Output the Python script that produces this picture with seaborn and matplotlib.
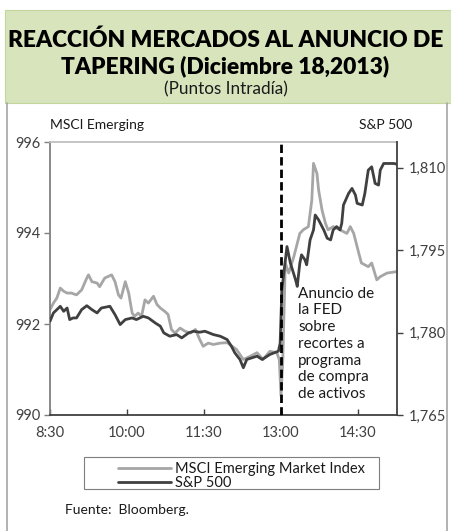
import matplotlib
matplotlib.use("Agg")
import matplotlib.pyplot as plt
import seaborn as sns
import pandas as pd
from matplotlib.patches import Rectangle
from matplotlib.lines import Line2D

# ---------------- data ----------------
msci_min = [0,4,8,12,16,20,25,31,37,43,45,49,55,58,64,72,76,80,83,88,92,96,99,103,107,111,115,121,125,129,
            134,138,142,146,152,158,164,170,175,179,185,191,199,207,218,226,234,242,249,257,265,268,270,272,275,
            279,285,292,296,302,306,308,312,314,318,322,325,331,339,347,351,355,361,364,372,376,382,386,394,405]
msci_val = [992.31,992.46,992.57,992.79,992.72,992.68,992.68,992.64,992.75,993.01,993.08,992.93,992.90,992.82,
            993.01,993.08,992.93,992.64,992.57,992.93,992.68,992.24,992.17,992.24,992.17,992.53,992.46,992.61,
            992.43,992.35,992.28,992.21,991.88,991.80,991.91,991.84,991.80,991.88,991.66,991.51,991.58,991.55,
            991.58,991.59,991.44,991.22,991.29,991.37,991.22,991.40,991.37,991.22,990.42,991.15,993.34,993.12,
            993.48,993.99,994.07,994.14,994.72,995.53,995.31,994.94,994.50,994.21,994.07,994.14,994.07,993.99,
            994.14,993.99,993.55,993.34,993.26,993.34,992.97,993.04,993.12,993.15]
sp_min = [0,4,8,12,16,20,23,27,31,37,43,49,55,60,70,76,82,88,96,101,109,115,123,129,133,140,148,154,162,168,
          175,181,191,199,207,212,216,222,226,230,242,248,257,267,269,271,277,281,287,289,292,294,298,300,304,
          308,310,314,320,324,328,331,335,339,341,343,349,353,357,359,365,368,372,376,380,384,386,390,402,405]
sp_val = [1782.07,1783.58,1784.18,1784.79,1783.88,1784.48,1782.37,1782.67,1782.67,1784.18,1784.90,1784.18,
          1783.58,1784.48,1784.79,1783.27,1781.46,1782.37,1782.67,1782.37,1782.97,1782.67,1781.76,1781.16,
          1779.95,1779.34,1779.64,1779.04,1779.95,1780.25,1780.07,1780.25,1779.64,1779.34,1778.74,1777.53,
          1776.32,1775.11,1773.60,1775.11,1775.71,1775.11,1776.02,1776.62,1778.10,1787.81,1795.67,1792.65,
          1789.62,1788.41,1792.65,1794.16,1793.25,1792.34,1796.88,1798.69,1801.41,1800.50,1798.69,1797.18,
          1796.88,1798.69,1799.30,1798.69,1799.90,1803.23,1805.34,1806.25,1805.04,1803.53,1803.23,1805.34,
          1809.58,1810.18,1807.16,1806.86,1809.58,1810.79,1810.79,1810.67]

x_ticks = [0, 90, 180, 270, 360]
x_tick_labels = ["8:30", "10:00", "11:30", "13:00", "14:30"]
left_ticks = [990, 992, 994, 996]
right_ticks = [1765, 1780, 1795, 1810]
right_tick_labels = ["1,765", "1,780", "1,795", "1,810"]
event_min = 270

title = "REACCIÓN MERCADOS AL ANUNCIO DE\nTAPERING (Diciembre 18,2013)"
subtitle = "(Puntos Intradía)"
annot = "Anuncio de\nla FED\nsobre\nrecortes a\nprograma\nde compra\nde activos"
series_names = ["MSCI Emerging Market Index", "S&P 500"]

msci_df = pd.DataFrame({"t": msci_min, "v": msci_val})
sp_df = pd.DataFrame({"t": sp_min, "v": sp_val})

# ---------------- style ----------------
sns.set_style("white")
plt.rcParams["font.family"] = ["Lato", "DejaVu Sans"]

W, H = 451, 531
fig = plt.figure(figsize=(W / 100, H / 100), dpi=100)

def fx(px):
    return px / W

def fy(py):
    return 1 - py / H

# header band and frame
fig.patches.append(Rectangle((fx(5), fy(103)), fx(446), 93 / H, transform=fig.transFigure,
                             facecolor="#d8e4bc", edgecolor="#c3d69b", lw=0.8, zorder=0))
fig.add_artist(Line2D([fx(7), fx(7)], [fy(103), 0], color="#a6a6a6", lw=1.2))
fig.add_artist(Line2D([fx(447), fx(447)], [fy(103), 0], color="#a6a6a6", lw=1.2))

fig.text(0.5, fy(40), title.split("\n")[0], ha="center", va="center", fontsize=16.4, fontweight="heavy",
         color="#000000")
fig.text(0.5, fy(66), title.split("\n")[1], ha="center", va="center", fontsize=16.4, fontweight="heavy",
         color="#000000")
fig.text(0.5, fy(89), subtitle, ha="center", va="center", fontsize=12.3, color="#1a1a1a")

ax = fig.add_axes([fx(50), fy(415), 346.5 / W, 273 / H])
ax2 = ax.twinx()

sns.lineplot(data=msci_df, x="t", y="v", ax=ax, color="#a6a6a6", lw=2.0, label=series_names[0], legend=False)
sns.lineplot(data=sp_df, x="t", y="v", ax=ax2, color="#404040", lw=2.0, label=series_names[1], legend=False)
ax2.axvline(event_min, color="black", lw=2, ls=(0, (3, 1.5)), zorder=5)

ax.set_xlim(0, 405)
ax.set_ylim(990, 996)
ax2.set_ylim(1765, 1814.7)
ax.set_xticks(x_ticks)
ax.set_xticklabels(x_tick_labels)
ax.set_yticks(left_ticks)
ax2.set_yticks(right_ticks)
ax2.set_yticklabels(right_tick_labels)
for a in (ax, ax2):
    a.set_xlabel("")
    a.set_ylabel("")

ax.patch.set_visible(False)
ax.spines["top"].set_color("#bfbfbf")
ax.spines["left"].set_color("#808080")
ax.spines["bottom"].set_color("#404040")
ax.spines["right"].set_visible(False)
for s in ("top", "left", "bottom"):
    ax2.spines[s].set_visible(False)
ax2.spines["right"].set_color("#404040")
for sp in list(ax.spines.values()) + [ax2.spines["right"]]:
    sp.set_linewidth(1.3)

ax.tick_params(axis="y", direction="out", length=4, width=1, color="#808080", labelsize=10.5,
               labelcolor="#404040", pad=3, left=True)
ax.tick_params(axis="x", direction="in", length=4, width=1, color="#404040", labelsize=10.5,
               labelcolor="#404040", pad=8, bottom=True)
ax2.tick_params(axis="y", direction="out", length=4, width=1, color="#404040", labelsize=10.5,
                labelcolor="#404040", pad=5, right=True)

ax.text(290, 992.82, annot, ha="left", va="top", fontsize=11, color="#1a1a1a", linespacing=1.25)

fig.text(fx(50), fy(125), "MSCI Emerging", ha="left", va="center", fontsize=10, color="#1a1a1a")
fig.text(fx(412), fy(125), "S&P 500", ha="right", va="center", fontsize=10, color="#1a1a1a")

# legend
handles = ax.get_lines()[:1] + ax2.get_lines()[:1]
fig.patches.append(Rectangle((fx(84), fy(489)), 295 / W, 32 / H, transform=fig.transFigure,
                             facecolor="none", edgecolor="#7f7f7f", lw=0.8))
fig.legend(handles, series_names, loc="upper left", bbox_to_anchor=(fx(111), fy(455)),
           frameon=False, fontsize=10.5, handlelength=3.6, handletextpad=0.3, labelspacing=0.0,
           borderpad=0.0, labelcolor="#1a1a1a")

fig.text(fx(65), fy(510), "Fuente:  Bloomberg.", ha="left", va="center", fontsize=10, color="#1a1a1a")

fig.savefig("out.png", dpi=100)
